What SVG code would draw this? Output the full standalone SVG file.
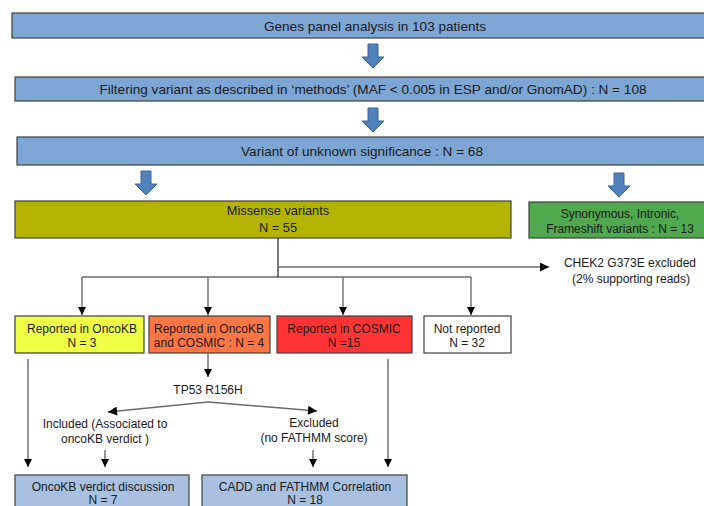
<svg xmlns="http://www.w3.org/2000/svg" width="704" height="506" viewBox="0 0 704 506">
<style>
text{font-family:"Liberation Sans",Arial,sans-serif;fill:#1a1a1a;text-anchor:middle}
.big{font-size:13.6px}
.mid{font-size:12.8px}
.sm{font-size:12px}
.box{stroke:#404040;stroke-width:1.2}
.blue{fill:#7EA6D5}
.lblue{fill:#A9C1E0}
.barrow{fill:#4F81BD;stroke:#3A6699;stroke-width:1}
.ln{stroke:#222;stroke-width:1.2;fill:none}
.lg{stroke:#6a6a6a;stroke-width:1.4;fill:none}
</style>
<defs>
<marker id="ah" viewBox="0 0 10 10" refX="10" refY="5" markerWidth="8" markerHeight="8" markerUnits="userSpaceOnUse" orient="auto">
<path d="M0,0 L10,5 L0,10 z" fill="#000"/>
</marker>
<marker id="ahl" viewBox="0 0 10 10" refX="10" refY="5" markerWidth="11" markerHeight="9" markerUnits="userSpaceOnUse" orient="auto">
<path d="M0,0 L10,5 L0,10 z" fill="#000"/>
</marker>
<path id="blk" d="M-5,0 h10 v13 h6 l-11,11 l-11,-11 h6 z"/>
</defs>
<rect width="704" height="506" fill="#fff"/>

<g id="n-genes">
<rect class="box blue" x="12" y="13" width="700" height="25"/>
<text class="big" x="375" y="31">Genes panel analysis in 103 patients</text>
</g>
<g id="n-filter">
<rect class="box blue" x="15" y="77" width="700" height="24"/>
<text class="big" x="373" y="94">Filtering variant as described in ‘methods’ (MAF &lt; 0.005 in ESP and/or GnomAD) : N = 108</text>
</g>
<g id="n-vus">
<rect class="box blue" x="17" y="137" width="700" height="28"/>
<text class="big" x="362" y="156">Variant of unknown significance : N = 68</text>
</g>
<g id="n-missense">
<rect class="box" fill="#B4B400" x="15" y="201" width="496" height="37"/>
<text class="mid" x="278" y="215">Missense variants</text>
<text class="mid" x="278" y="232">N = 55</text>
</g>
<g id="n-syn">
<rect class="box" fill="#50A84F" x="529" y="202" width="190" height="36"/>
<text class="sm" x="620" y="218">Synonymous, Intronic,</text>
<text class="sm" x="620" y="233">Frameshift variants : N = 13</text>
</g>
<g id="n-chek2">
<text class="sm" x="630" y="267">CHEK2 G373E excluded</text>
<text class="sm" x="631" y="283">(2% supporting reads)</text>
</g>
<g id="n-oncokb">
<rect class="box" fill="#EEFF44" x="15" y="316" width="129" height="37"/>
<text class="sm" x="82" y="333">Reported in OncoKB</text>
<text class="sm" x="82" y="347">N = 3</text>
</g>
<g id="n-both">
<rect class="box" fill="#FF7544" x="149" y="316" width="121" height="37"/>
<text class="sm" x="209" y="333">Reported in OncoKB</text>
<text class="sm" x="209" y="347">and COSMIC :  N = 4</text>
</g>
<g id="n-cosmic">
<rect class="box" fill="#FF3333" x="277" y="316" width="135" height="37"/>
<text class="sm" x="344" y="333">Reported in COSMIC</text>
<text class="sm" x="344" y="347">N =15</text>
</g>
<g id="n-notrep">
<rect class="box" fill="#FFFFFF" x="424" y="316" width="87" height="37"/>
<text class="sm" x="467" y="333">Not reported</text>
<text class="sm" x="467" y="347">N = 32</text>
</g>
<g id="n-tp53">
<text class="sm" x="208" y="394">TP53 R156H</text>
</g>
<g id="n-included">
<text class="sm" x="105" y="428">Included (Associated to</text>
<text class="sm" x="105" y="443">oncoKB verdict )</text>
</g>
<g id="n-excluded">
<text class="sm" x="314" y="427">Excluded</text>
<text class="sm" x="314" y="442">(no FATHMM score)</text>
</g>
<g id="n-verdict">
<rect class="box lblue" x="15" y="475" width="174" height="40"/>
<text class="sm" x="103" y="491">OncoKB verdict discussion</text>
<text class="sm" x="103" y="504">N = 7</text>
</g>
<g id="n-cadd">
<rect class="box lblue" x="202" y="475" width="205" height="40"/>
<text class="sm" x="305" y="491">CADD and FATHMM Correlation</text>
<text class="sm" x="305" y="504">N = 18</text>
</g>

<g id="connectors">
<use href="#blk" class="barrow" x="373" y="44"/>
<use href="#blk" class="barrow" x="373" y="108"/>
<use href="#blk" class="barrow" x="146" y="171"/>
<use href="#blk" class="barrow" x="619" y="173"/>
<line class="ln" x1="278" y1="238" x2="278" y2="277"/>
<line class="lg" x1="278" y1="267" x2="549" y2="267" marker-end="url(#ahl)"/>
<line class="ln" x1="82" y1="277" x2="471" y2="277"/>
<line class="lg" x1="82" y1="277" x2="82" y2="315" marker-end="url(#ah)"/>
<line class="lg" x1="208" y1="277" x2="208" y2="315" marker-end="url(#ah)"/>
<line class="lg" x1="343" y1="277" x2="343" y2="315" marker-end="url(#ah)"/>
<line class="lg" x1="471" y1="277" x2="471" y2="315" marker-end="url(#ah)"/>
<line class="lg" x1="208" y1="353" x2="208" y2="377" marker-end="url(#ah)"/>
<line class="lg" x1="208" y1="402" x2="108" y2="412" marker-end="url(#ahl)"/>
<line class="lg" x1="208" y1="402" x2="317" y2="411" marker-end="url(#ahl)"/>
<line class="lg" x1="28" y1="359" x2="28" y2="467" marker-end="url(#ah)"/>
<line class="lg" x1="388" y1="359" x2="388" y2="467" marker-end="url(#ah)"/>
<line class="lg" x1="105" y1="450" x2="105" y2="467" marker-end="url(#ah)"/>
<line class="lg" x1="313" y1="450" x2="313" y2="467" marker-end="url(#ah)"/>
</g>
</svg>
